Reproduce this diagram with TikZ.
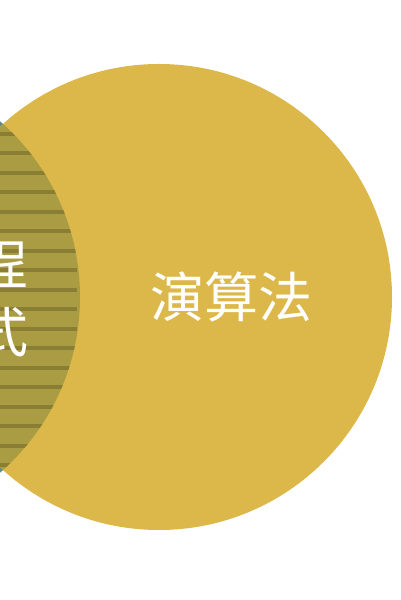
\documentclass[tikz,border=0pt]{standalone}
\usepackage{fontspec}
\newfontfamily\cjk{Noto Sans CJK TC}
\definecolor{venny}{HTML}{DCB84A}
\definecolor{vennolive}{HTML}{A99C42}
\definecolor{vennstripe}{HTML}{8A7E34}
\definecolor{vennteal}{HTML}{5E8C8A}
\tikzset{
  lbl/.style={text=white, font=\cjk\fontsize{54}{68}\selectfont, align=center, inner sep=0pt},
}
\begin{document}
\begin{tikzpicture}[x=1pt,y=1pt]
\useasboundingbox (0,0) rectangle (400,600);
\fill[white] (0,0) rectangle (400,600);
\coordinate (cl) at (-153,303);
\coordinate (cr) at (159,303);
\fill[vennteal] (cl) circle[radius=233];
\fill[venny] (cr) circle[radius=233];
\begin{scope}
  \clip (cl) circle[radius=233];
  \clip (cr) circle[radius=233];
  \fill[vennolive] (-80,60) rectangle (100,540);
  \foreach \k in {-1,...,18} {
    \fill[vennstripe] (-80,{466-19.5*\k-2}) rectangle (77,{466-19.5*\k+2});
  }
\end{scope}
\node[lbl] (alg) at (231,303) {演算法};
\node[lbl] (prog) at (2,302) {程\\式};
\end{tikzpicture}
\end{document}
